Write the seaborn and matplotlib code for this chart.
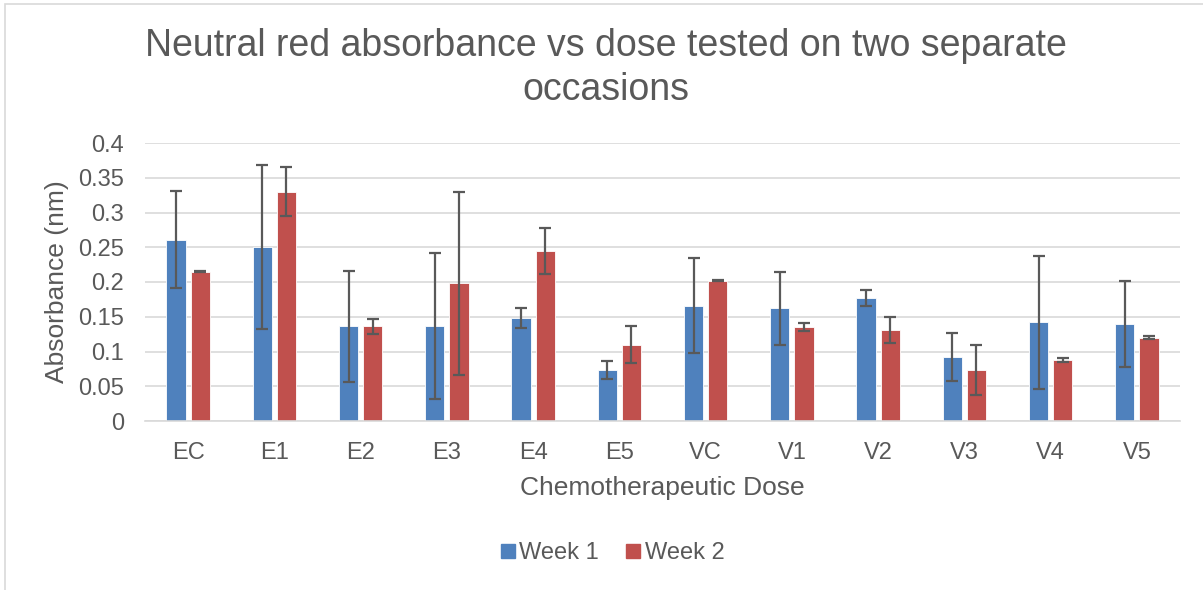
import seaborn as sns
import matplotlib.pyplot as plt
import pandas as pd
from matplotlib.patches import Rectangle
from matplotlib.lines import Line2D

doses = ["EC", "E1", "E2", "E3", "E4", "E5", "VC", "V1", "V2", "V3", "V4", "V5"]
week1 = [0.261, 0.251, 0.136, 0.137, 0.148, 0.074, 0.166, 0.162, 0.177, 0.092, 0.142, 0.139]
week1_err = [0.070, 0.118, 0.080, 0.105, 0.014, 0.013, 0.068, 0.052, 0.011, 0.035, 0.096, 0.062]
week2 = [0.215, 0.330, 0.136, 0.198, 0.245, 0.110, 0.202, 0.135, 0.131, 0.074, 0.088, 0.120]
week2_err = [0.001, 0.035, 0.011, 0.132, 0.033, 0.026, 0.001, 0.006, 0.019, 0.036, 0.003, 0.002]
weeks = ["Week 1", "Week 2"]

df = pd.DataFrame({
    "Dose": doses * 2,
    "Absorbance": week1 + week2,
    "Week": [weeks[0]] * len(doses) + [weeks[1]] * len(doses),
})
errs = [week1_err, week2_err]

sns.set_theme(style="white")
plt.rcParams["font.family"] = ["Liberation Sans", "DejaVu Sans"]
txt = "#595959"
colors = ["#4F81BD", "#C0504D"]

fig = plt.figure(figsize=(12.03, 5.90), dpi=100)
ax = fig.add_axes([145 / 1203, 1 - 421 / 590, 1035 / 1203, 278 / 590])

sns.barplot(data=df, x="Dose", y="Absorbance", hue="Week", palette=colors,
            saturation=1, width=0.56, gap=0.2, errorbar=None, legend=False, ax=ax,
            edgecolor="#ffffff", linewidth=0.6)

for cont, err in zip(ax.containers, errs):
    xs = [b.get_x() + b.get_width() / 2 for b in cont]
    hs = [b.get_height() for b in cont]
    ax.errorbar(xs, hs, yerr=err, fmt="none", ecolor=txt, elinewidth=1.6,
                capsize=4.5, capthick=1.6, zorder=5)

ax.set_ylim(0, 0.4)
ax.set_xlim(-0.5, len(doses) - 0.5)
ax.set_yticks([0, 0.05, 0.1, 0.15, 0.2, 0.25, 0.3, 0.35, 0.4])
ax.set_yticklabels(["0", "0.05", "0.1", "0.15", "0.2", "0.25", "0.3", "0.35", "0.4"])
ax.yaxis.grid(True, color="#D9D9D9", linewidth=1.2)
ax.set_axisbelow(True)
for s in ["top", "right", "left"]:
    ax.spines[s].set_visible(False)
ax.spines["bottom"].set_color("#D9D9D9")
ax.spines["bottom"].set_linewidth(1.2)
ax.tick_params(axis="both", length=0, labelsize=17, labelcolor=txt)
ax.tick_params(axis="y", pad=15)
ax.tick_params(axis="x", pad=15)
ax.set_xlabel("Chemotherapeutic Dose", fontsize=19, color=txt, labelpad=9)
ax.set_ylabel("Absorbance (nm)", fontsize=19, color=txt, labelpad=7)

fig.text(0.504, 1 - 68 / 590, "Neutral red absorbance vs dose tested on two separate\noccasions",
         ha="center", va="center", fontsize=27, color=txt, linespacing=1.3)

handles = [Line2D([0], [0], marker="s", linestyle="none", markersize=10,
                  markerfacecolor=c, markeredgecolor=c) for c in colors]
fig.legend(handles, weeks, loc="center", bbox_to_anchor=(611 / 1203, 1 - 553 / 590),
           ncol=2, frameon=False, fontsize=17, labelcolor=txt,
           handletextpad=0.05, columnspacing=1.0, handlelength=0.9)

fig.patches.append(Rectangle((5 / 1203, -0.1), 1.2, 1 - 4 / 590 + 0.1, transform=fig.transFigure,
                             fill=False, edgecolor="#D9D9D9", linewidth=1.2, zorder=0))

fig.savefig("out.png", dpi=100)
